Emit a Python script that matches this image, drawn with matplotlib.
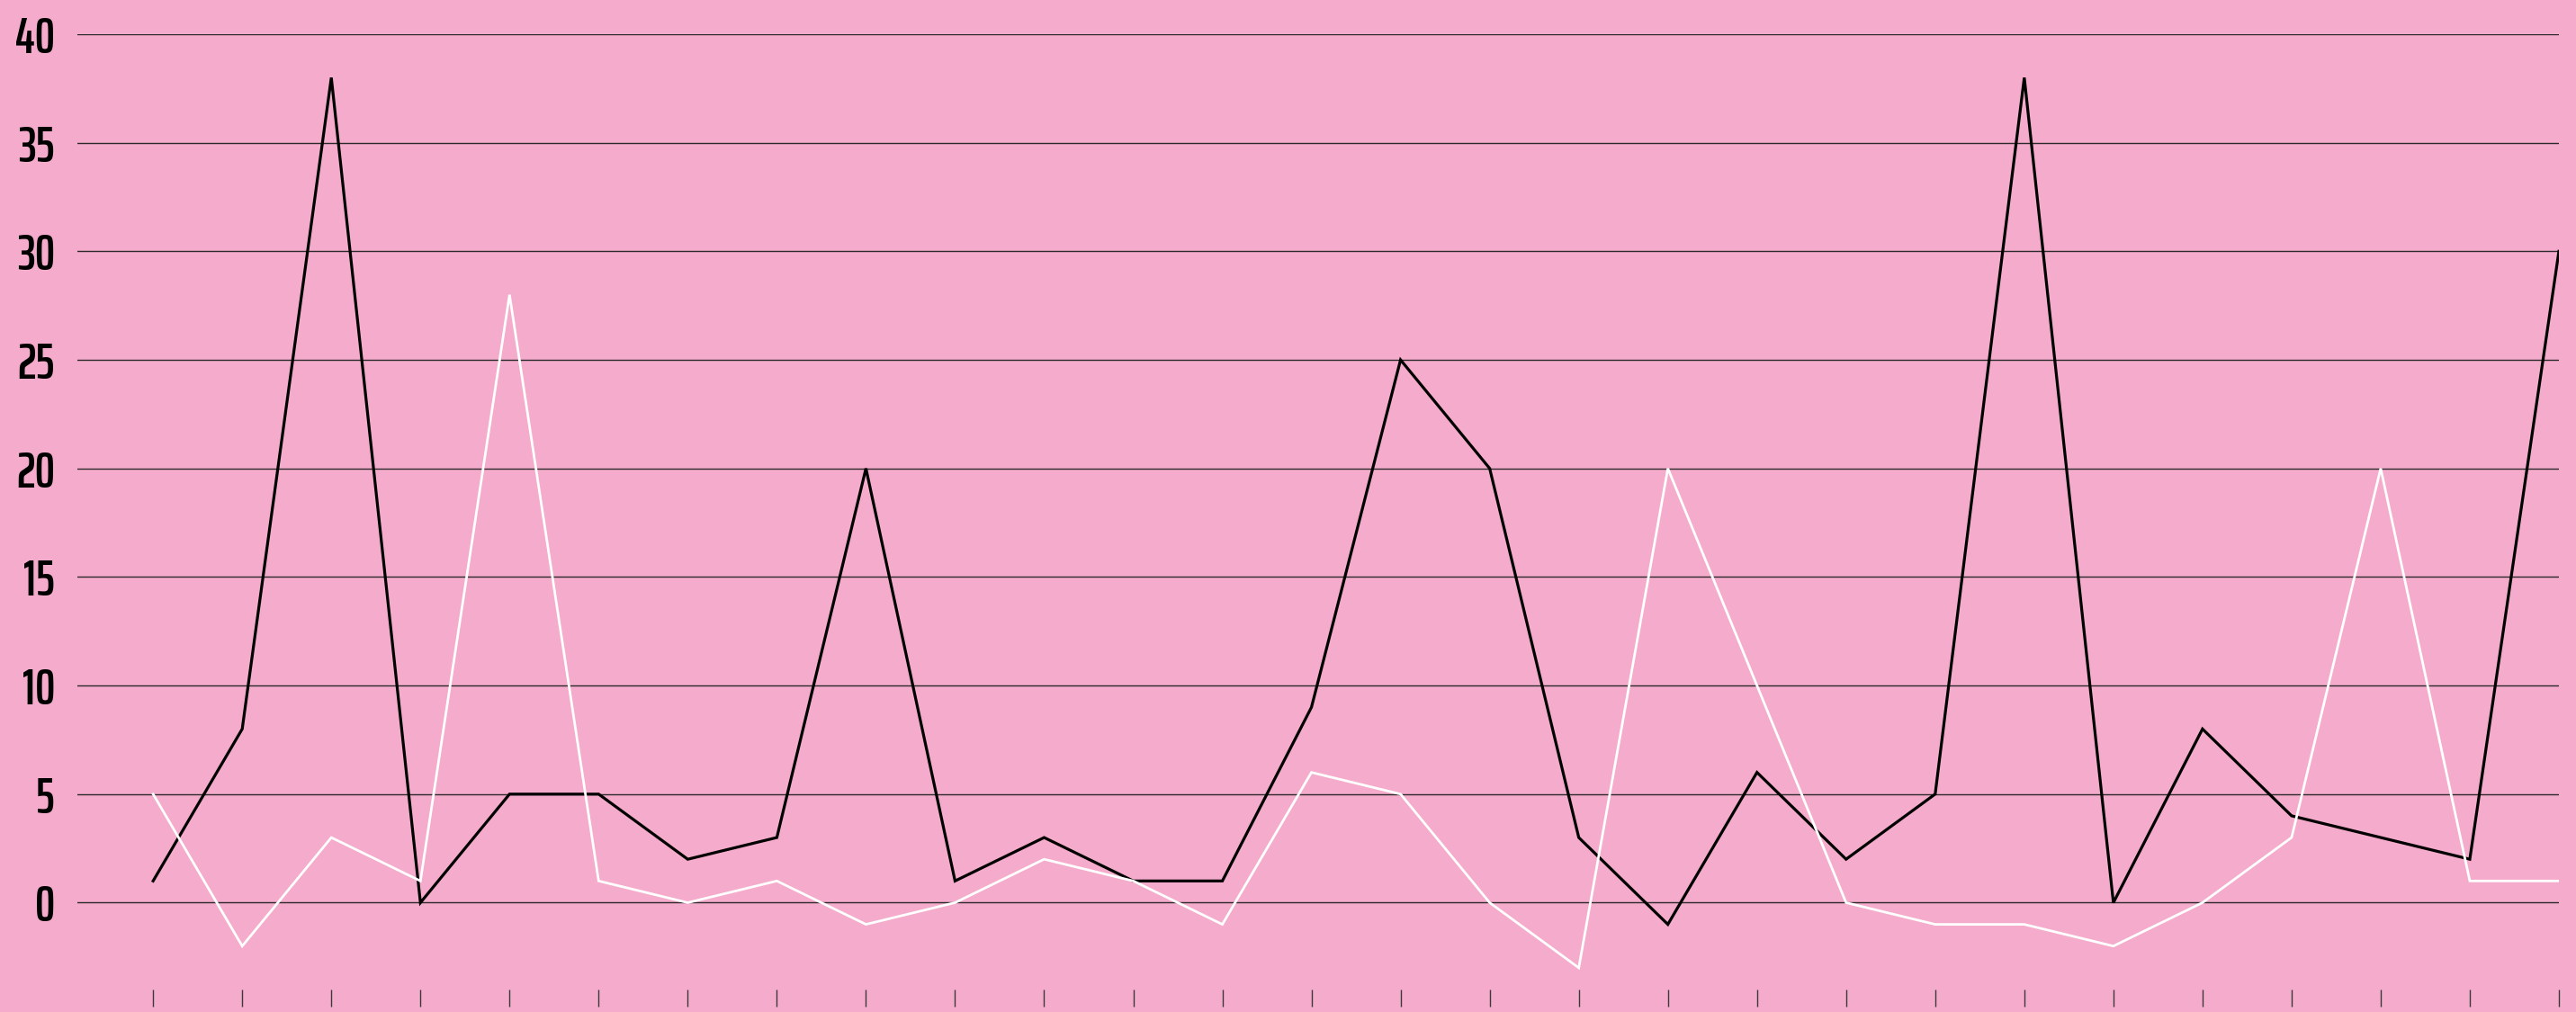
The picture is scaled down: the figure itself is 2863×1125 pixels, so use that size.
import matplotlib
matplotlib.use("Agg")
import matplotlib.pyplot as plt
from matplotlib import font_manager
from matplotlib.font_manager import FontProperties

# Data
x_idx = list(range(28))
series_black = [1, 8, 38, 0, 5, 5, 2, 3, 20, 1, 3, 1, 1, 9, 25, 20, 3, -1, 6, 2, 5, 38, 0, 8, 4, 3, 2, 30]
series_white = [5, -2, 3, 1, 28, 1, 0, 1, -1, 0, 2, 1, -1, 6, 5, 0, -3, 20, 10, 0, -1, -1, -2, 0, 3, 20, 1, 1]
y_ticks = [0, 5, 10, 15, 20, 25, 30, 35, 40]


def wnum(w):
    if isinstance(w, (int, float)):
        return w
    return {"light": 300, "normal": 400, "regular": 400, "medium": 500,
            "semibold": 600, "demibold": 600, "bold": 700, "heavy": 800,
            "black": 900}.get(str(w).lower(), 400)


# choose a narrow font, medium/semibold weight if possible
cands = []
for f in font_manager.fontManager.ttflist:
    st = str(f.stretch).lower()
    nm = f.name.lower()
    score = 0
    if "extra-condensed" in st or "extracondensed" in nm or "ultra" in st:
        score = 4
    elif "condensed" in st or "condensed" in nm or "narrow" in nm:
        score = 3
    elif "semi" in st:
        score = 2
    if score and f.style == "normal":
        cands.append((score, -abs(wnum(f.weight) - 600), f.fname))
cands.sort(reverse=True)
if cands:
    fp = FontProperties(fname=cands[0][2])
else:
    fp = FontProperties(family="Liberation Sans")

BG = "#F5ABCB"
W, H = 2863, 1125
fig = plt.figure(figsize=(W / 100, H / 100), dpi=100, facecolor=BG)

# size the label font so "40" is about as tall / wide as in the reference
r = fig.canvas.get_renderer()
t = fig.text(0, 0, "40", fontproperties=fp, fontsize=100)
bb = t.get_window_extent(r)
t.remove()
w100 = bb.width
h100 = 0.72 * 100 * 100 / 72
fs = min(100 * 54 / h100, 100 * 44 / w100)

left, right = 86, 2844
top, bottom = 38, 1100
ax = fig.add_axes([left / W, (H - bottom) / H, (right - left) / W, (bottom - top) / H])
ax.set_facecolor(BG)

ax.plot(x_idx, series_black, color="black", lw=2.3, zorder=3, solid_joinstyle="miter")
ax.plot(x_idx, series_white, color="white", lw=2.0, zorder=4, solid_joinstyle="miter")

ax.set_xlim(-0.85, 27)
ax.set_ylim(-4, 40)
ax.set_yticks(y_ticks)
ax.set_yticklabels([str(v) for v in y_ticks])
for lab in ax.get_yticklabels():
    lab.set_fontproperties(fp)
    lab.set_fontsize(fs)
    lab.set_color("black")
ax.set_xticks(x_idx)
ax.set_xticklabels([])
ax.tick_params(axis="y", length=0, pad=18)
ax.tick_params(axis="x", length=14, width=1.0, color="#3a3a3a", direction="out")
ax.grid(axis="y", color="#2a2a2a", lw=1.0, zorder=1)
ax.set_axisbelow(True)
for s in ax.spines.values():
    s.set_visible(False)

fig.savefig("out.png", dpi=100, facecolor=BG)
